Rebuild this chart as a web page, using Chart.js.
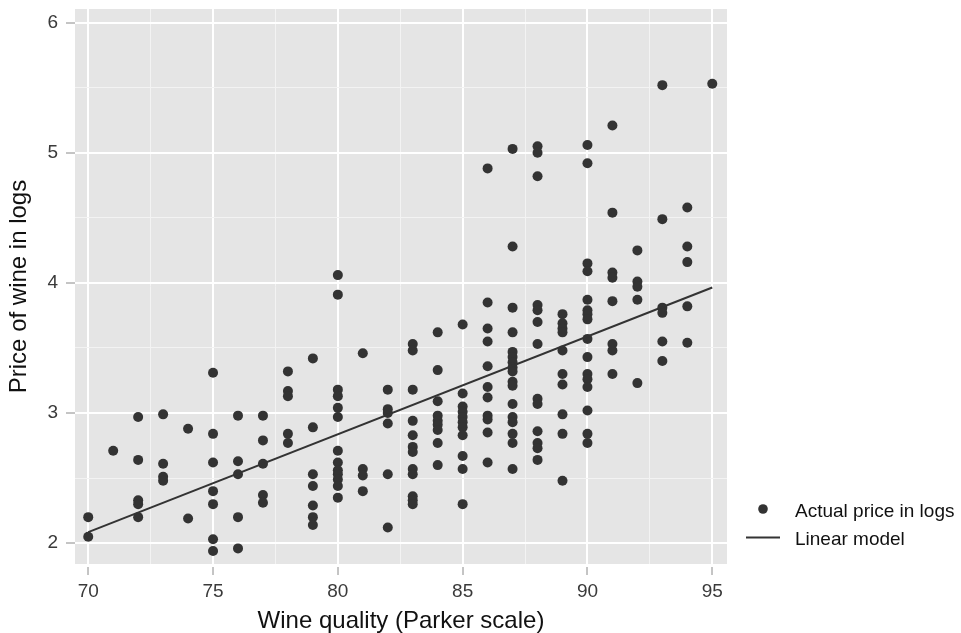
<!DOCTYPE html>
<html>
<head>
<meta charset="utf-8">
<script src="https://cdn.jsdelivr.net/npm/chart.js@4.4.1/dist/chart.umd.min.js"></script>
<style>
  html, body { margin: 0; padding: 0; background: #fff; }
  #wrap { width: 961px; height: 633px; }
</style>
</head>
<body>
<div id="wrap"><canvas id="wineChart" width="961" height="633"></canvas></div>
<script>
// data
const qualityLevels = [70, 71, 72, 73, 74, 75, 76, 77, 78, 79, 80, 81, 82, 83, 84, 85, 86, 87, 88, 89, 90, 91, 92, 93, 94, 95];
const logPrices = [
  [2.20, 2.05],                                                   // 70
  [2.71],                                                         // 71
  [2.97, 2.64, 2.33, 2.30, 2.20],                                 // 72
  [2.99, 2.61, 2.51, 2.48],                                       // 73
  [2.88, 2.19],                                                   // 74
  [3.31, 2.84, 2.62, 2.40, 2.30, 2.03, 1.94],                     // 75
  [2.98, 2.63, 2.53, 2.20, 1.96],                                 // 76
  [2.98, 2.79, 2.61, 2.37, 2.31],                                 // 77
  [3.32, 3.17, 3.13, 2.84, 2.77],                                 // 78
  [3.42, 2.89, 2.53, 2.44, 2.29, 2.20, 2.14],                     // 79
  [4.06, 3.91, 3.18, 3.13, 3.04, 2.97, 2.71, 2.62, 2.56, 2.53, 2.49, 2.44, 2.35], // 80
  [3.46, 2.57, 2.52, 2.40],                                       // 81
  [3.18, 3.03, 3.00, 2.92, 2.53, 2.12],                           // 82
  [3.53, 3.48, 3.18, 2.94, 2.83, 2.74, 2.70, 2.57, 2.53, 2.36, 2.33, 2.30], // 83
  [3.62, 3.33, 3.09, 2.98, 2.94, 2.91, 2.87, 2.77, 2.60],         // 84
  [3.68, 3.15, 3.05, 3.01, 2.97, 2.93, 2.89, 2.83, 2.67, 2.57, 2.30], // 85
  [4.88, 3.85, 3.65, 3.55, 3.36, 3.20, 3.12, 2.98, 2.95, 2.85, 2.62], // 86
  [5.03, 4.28, 3.81, 3.62, 3.47, 3.43, 3.39, 3.35, 3.32, 3.24, 3.21, 3.07, 2.97, 2.93, 2.84, 2.77, 2.57], // 87
  [5.05, 5.00, 4.82, 3.83, 3.79, 3.70, 3.53, 3.11, 3.07, 2.86, 2.77, 2.73, 2.64], // 88
  [3.76, 3.69, 3.65, 3.62, 3.48, 3.30, 3.22, 2.99, 2.84, 2.48],   // 89
  [5.06, 4.92, 4.15, 4.09, 3.87, 3.79, 3.76, 3.72, 3.57, 3.43, 3.30, 3.26, 3.20, 3.02, 2.84, 2.77], // 90
  [5.21, 4.54, 4.08, 4.04, 3.86, 3.53, 3.48, 3.30],               // 91
  [4.25, 4.01, 3.97, 3.87, 3.23],                                 // 92
  [5.52, 4.49, 3.81, 3.77, 3.55, 3.40],                           // 93
  [4.58, 4.28, 4.16, 3.82, 3.54],                                 // 94
  [5.53]                                                          // 95
];
// fitted line, end points
const fitQuality = [70, 95];
const fitPrice = [2.085, 3.965];

const xTicks = [70, 72.5, 75, 77.5, 80, 82.5, 85, 87.5, 90, 92.5, 95];
const yTicks = [2, 2.5, 3, 3.5, 4, 4.5, 5, 5.5, 6];
const xLabels = [70, 75, 80, 85, 90, 95];
const yLabels = [2, 3, 4, 5, 6];

const legendLabels = ['Actual price in logs', 'Linear model'];

const FONT = "'Liberation Sans', Arial, Helvetica, sans-serif";
const INK = '#333333';

// build points
const points = [];
qualityLevels.forEach((q, i) => {
  logPrices[i].forEach(p => points.push({ x: q, y: p }));
});
const fitLine = fitQuality.map((q, i) => ({ x: q, y: fitPrice[i] }));

function isMajor(ctx, labels) {
  return ctx.tick && labels.includes(ctx.tick.value);
}

// grey panel behind the grid
const panelBg = {
  id: 'panelBg',
  beforeDraw(chart) {
    const { ctx, chartArea: a } = chart;
    ctx.save();
    ctx.fillStyle = '#e5e5e5';
    ctx.fillRect(a.left, a.top, a.right - a.left, a.bottom - a.top);
    ctx.restore();
  }
};

// legend at bottom right, ggplot style
const sideLegend = {
  id: 'sideLegend',
  afterDraw(chart) {
    const ctx = chart.ctx;
    ctx.save();
    ctx.fillStyle = INK;
    ctx.beginPath();
    ctx.arc(763, 509, 4.8, 0, Math.PI * 2);
    ctx.fill();
    ctx.strokeStyle = INK;
    ctx.lineWidth = 2;
    ctx.beginPath();
    ctx.moveTo(746, 537.5);
    ctx.lineTo(780, 537.5);
    ctx.stroke();
    ctx.fillStyle = '#111';
    ctx.font = '19px ' + FONT;
    ctx.textBaseline = 'alphabetic';
    ctx.fillText(legendLabels[0], 795, 516.5);
    ctx.fillText(legendLabels[1], 795, 545);
    ctx.restore();
  }
};

const chart = new Chart(document.getElementById('wineChart').getContext('2d'), {
  type: 'scatter',
  data: {
    datasets: [
      {
        label: legendLabels[1],
        type: 'line',
        data: fitLine,
        borderColor: INK,
        borderWidth: 2,
        pointRadius: 0,
        fill: false,
        order: 0
      },
      {
        label: legendLabels[0],
        data: points,
        backgroundColor: INK,
        borderWidth: 0,
        pointRadius: 5,
        order: 1
      }
    ]
  },
  options: {
    responsive: false,
    animation: false,
    layout: { padding: { left: 0, top: 9, right: 234, bottom: 0 } },
    plugins: {
      legend: { display: false },
      tooltip: { enabled: false }
    },
    scales: {
      x: {
        type: 'linear',
        min: 69.47,
        max: 95.59,
        afterBuildTicks: s => { s.ticks = xTicks.map(v => ({ value: v })); },
        afterFit: s => { s.height = 69; s.paddingLeft = 0; s.paddingRight = 0; },
        border: { display: false },
        grid: {
          color: c => isMajor(c, xLabels) ? '#ffffff' : '#f3f3f3',
          lineWidth: c => isMajor(c, xLabels) ? 2 : 1,
          tickColor: c => isMajor(c, xLabels) ? '#8a8a8a' : 'rgba(0,0,0,0)',
          tickLength: 11,
          tickWidth: 1,
          tickBorderDash: [0, 3, 8, 40]
        },
        ticks: {
          autoSkip: false,
          maxRotation: 0,
          padding: 5,
          color: '#3a3a3a',
          font: { family: FONT, size: 19 },
          callback: v => xLabels.includes(v) ? String(v) : ''
        },
        title: {
          display: true,
          text: 'Wine quality (Parker scale)',
          color: '#111',
          font: { family: FONT, size: 24, lineHeight: 1 },
          padding: { top: 0, bottom: 0 }
        }
      },
      y: {
        type: 'linear',
        min: 1.84,
        max: 6.105,
        afterBuildTicks: s => { s.ticks = yTicks.map(v => ({ value: v })); },
        afterFit: s => { s.width = 75; s.paddingTop = 0; s.paddingBottom = 0; },
        border: { display: false },
        grid: {
          color: c => isMajor(c, yLabels) ? '#ffffff' : '#f3f3f3',
          lineWidth: c => isMajor(c, yLabels) ? 2 : 1,
          tickColor: c => isMajor(c, yLabels) ? '#8a8a8a' : 'rgba(0,0,0,0)',
          tickLength: 12,
          tickWidth: 1,
          tickBorderDash: [0, 3, 9, 40]
        },
        ticks: {
          autoSkip: false,
          padding: 5,
          color: '#3a3a3a',
          font: { family: FONT, size: 19 },
          callback: v => yLabels.includes(v) ? String(v) : ''
        },
        title: {
          display: true,
          text: 'Price of wine in logs',
          color: '#111',
          font: { family: FONT, size: 24, lineHeight: 1 },
          padding: { top: 7, bottom: 0 }
        }
      }
    }
  },
  plugins: [panelBg, sideLegend]
});
</script>
</body>
</html>
